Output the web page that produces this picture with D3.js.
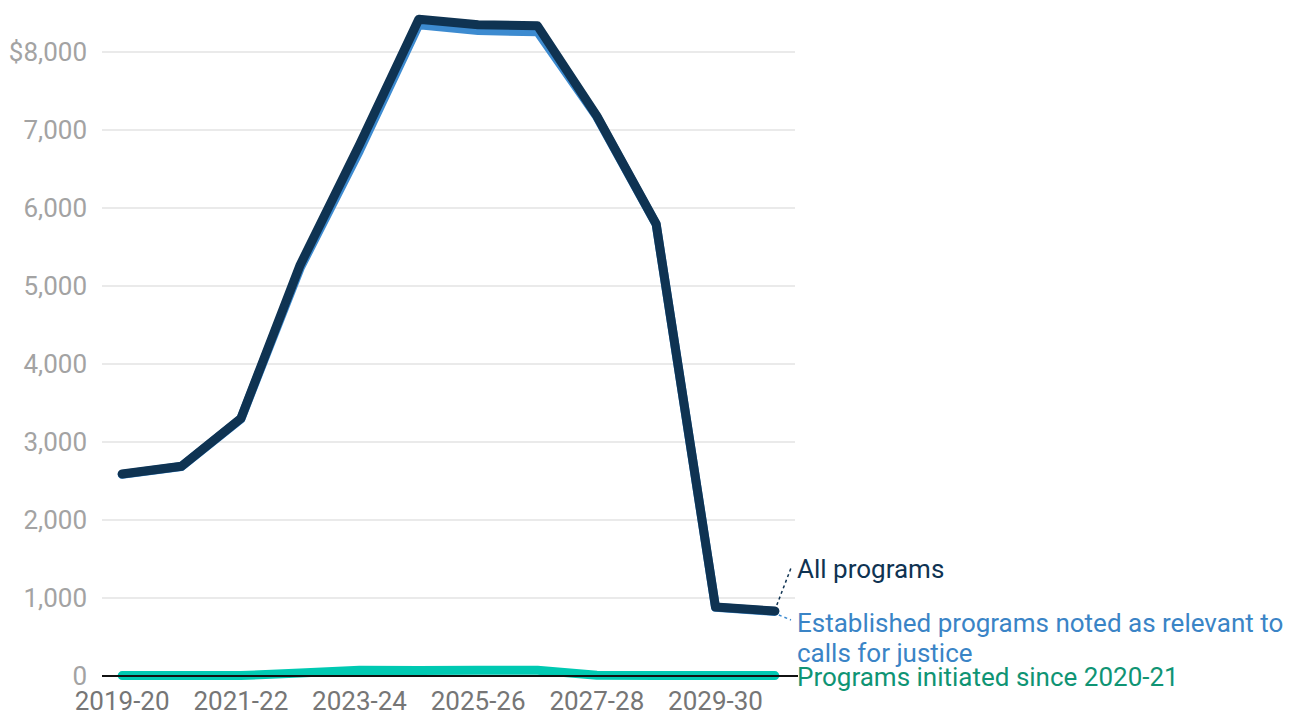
<!DOCTYPE html>
<html>
<head>
<meta charset="utf-8">
<script src="https://cdn.jsdelivr.net/npm/d3@7"></script>
<style>
  html, body { margin: 0; padding: 0; background: #fff; }
  svg { display: block; font-family: Roboto, "Noto Sans", sans-serif; }
</style>
</head>
<body>
<svg id="chart" width="1300" height="719"></svg>
<script>
// ---------- data ($ millions) ----------
const YEARS = ["2019-20", "2020-21", "2021-22", "2022-23", "2023-24", "2024-25",
               "2025-26", "2026-27", "2027-28", "2028-29", "2029-30", "2030-31"];
const ALL_PROGRAMS = [2590, 2690, 3300, 5270, 6810, 8420, 8350, 8335, 7180, 5795, 885, 833];
const INITIATED    = [5, 5, 5, 40, 75, 70, 75, 75, 10, 5, 5, 5];
const ESTABLISHED  = [2585, 2685, 3295, 5230, 6735, 8350, 8275, 8260, 7170, 5790, 880, 828];
const Y_TICKS = [0, 1000, 2000, 3000, 4000, 5000, 6000, 7000, 8000];
const X_TICKS = ["2019-20", "2021-22", "2023-24", "2025-26", "2027-28", "2029-30"];

const SERIES = [
  { key: "init", values: INITIATED, color: "#00c9b2", width: 9 },
  { key: "est", values: ESTABLISHED, color: "#3d8bd0", width: 9 },
  { key: "all", values: ALL_PROGRAMS, color: "#0f3352", width: 9 },
];

const FS = 26;
const svg = d3.select("#chart");
const L = 102, R = 795, B = 676;

const x = d3.scalePoint().domain(YEARS).range([L, R]).padding(0.34);
const y = d3.scaleLinear().domain([0, 8000]).range([B, 52]);

// gridlines
svg.append("g").selectAll("line").data(Y_TICKS.filter(d => d > 0)).join("line")
  .attr("x1", L).attr("x2", R).attr("y1", d => y(d)).attr("y2", d => y(d))
  .attr("stroke", "#e3e3e3").attr("stroke-width", 1.5);

// y labels
svg.append("g").selectAll("text").data(Y_TICKS).join("text")
  .attr("x", 87).attr("y", d => y(d)).attr("dy", "0.36em")
  .attr("text-anchor", "end").attr("fill", "#a3a3a3").attr("font-size", FS)
  .text(d => d === 8000 ? "$" + d3.format(",")(d) : d3.format(",")(d));

// x labels
svg.append("g").selectAll("text").data(X_TICKS).join("text")
  .attr("x", d => x(d)).attr("y", 710)
  .attr("text-anchor", "middle").attr("fill", "#767676").attr("font-size", FS)
  .text(d => d);

const line = d3.line().x((d, i) => x(YEARS[i])).y(d => y(d)).curve(d3.curveLinear);

// initiated line (under the baseline)
svg.append("path").datum(SERIES[0].values).attr("d", line)
  .attr("fill", "none").attr("stroke", SERIES[0].color).attr("stroke-width", SERIES[0].width)
  .attr("stroke-linejoin", "round").attr("stroke-linecap", "round");

// zero baseline
svg.append("line").attr("x1", L).attr("x2", 798).attr("y1", y(0)).attr("y2", y(0))
  .attr("stroke", "#111").attr("stroke-width", 2);

SERIES.slice(1).forEach(s => {
  svg.append("path").datum(s.values).attr("d", line)
    .attr("fill", "none").attr("stroke", s.color).attr("stroke-width", s.width)
    .attr("stroke-linejoin", "round").attr("stroke-linecap", "round");
});

// labels + leaders
const lastX = x(YEARS[YEARS.length - 1]);
const lastAll = y(ALL_PROGRAMS[ALL_PROGRAMS.length - 1]);
svg.append("line").attr("x1", lastX + 2).attr("y1", lastAll - 6).attr("x2", 791).attr("y2", 568)
  .attr("stroke", "#0f3352").attr("stroke-width", 1.5).attr("stroke-dasharray", "3,3");
svg.append("line").attr("x1", lastX + 4).attr("y1", lastAll + 4).attr("x2", 791).attr("y2", 620)
  .attr("stroke", "#3d8bd0").attr("stroke-width", 1.5).attr("stroke-dasharray", "3,3");

svg.append("text").attr("x", 797).attr("y", 578).attr("fill", "#0f3352").attr("font-size", FS)
  .text("All programs");
svg.append("text").attr("x", 797).attr("y", 632).attr("fill", "#3a84c6").attr("font-size", FS)
  .text("Established programs noted as relevant to");
svg.append("text").attr("x", 797).attr("y", 662).attr("fill", "#3a84c6").attr("font-size", FS)
  .text("calls for justice");
svg.append("text").attr("x", 797).attr("y", 686).attr("fill", "#0f9474").attr("font-size", FS)
  .text("Programs initiated since 2020-21");
</script>
</body>
</html>
